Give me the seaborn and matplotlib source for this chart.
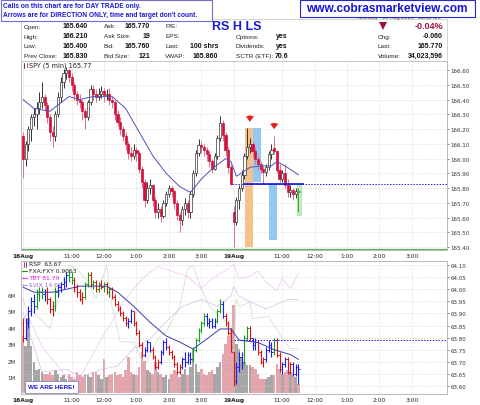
import numpy as np
import pandas as pd
import matplotlib
matplotlib.use('Agg')
import matplotlib.pyplot as plt
import seaborn as sns
from matplotlib.patches import Rectangle, Polygon

# SPY 5 min candles: bars 0-77 = 16 Aug, bars 78-102 = 19 Aug
spy_open = [166.15, 166.00, 166.10, 166.20, 166.28, 166.30, 166.34, 166.38, 166.42, 166.36,
            166.28, 166.18, 166.15, 166.30, 166.42, 166.52, 166.58, 166.60, 166.55, 166.50,
            166.44, 166.40, 166.38, 166.32, 166.28, 166.38, 166.47, 166.44, 166.42, 166.44,
            166.46, 166.43, 166.44, 166.40, 166.38, 166.30, 166.25, 166.20, 166.15, 166.10,
            166.04, 166.02, 166.06, 166.04, 165.93, 165.84, 165.72, 165.80, 165.82, 165.72,
            165.64, 165.66, 165.61, 165.70, 165.76, 165.80, 165.78, 165.70, 165.62, 165.58,
            165.66, 165.70, 165.64, 165.76, 165.90, 166.04, 166.09, 166.08, 166.06, 166.03,
            165.98, 165.93, 166.02, 166.14, 166.24, 166.16, 166.06, 165.94,
            165.64, 165.57, 165.72, 165.80, 165.89, 166.02, 166.08, 166.10, 166.05, 166.00,
            165.96, 165.93, 165.91, 165.94, 166.03, 166.07, 166.05, 165.92, 165.86, 165.90,
            165.82, 165.77, 165.79, 165.76, 165.78]
spy_high = [166.18, 166.12, 166.22, 166.30, 166.34, 166.38, 166.45, 166.52, 166.44, 166.38,
            166.30, 166.22, 166.32, 166.45, 166.55, 166.61, 166.62, 166.61, 166.58, 166.52,
            166.46, 166.44, 166.40, 166.34, 166.40, 166.50, 166.50, 166.47, 166.48, 166.49,
            166.48, 166.47, 166.48, 166.42, 166.40, 166.33, 166.28, 166.22, 166.18, 166.12,
            166.08, 166.10, 166.08, 166.05, 165.95, 165.86, 165.84, 165.86, 165.83, 165.74,
            165.70, 165.68, 165.72, 165.78, 165.82, 165.82, 165.79, 165.72, 165.64, 165.68,
            165.73, 165.72, 165.78, 165.92, 166.06, 166.13, 166.12, 166.10, 166.08, 166.05,
            166.00, 166.04, 166.16, 166.29, 166.26, 166.18, 166.08, 165.96,
            165.68, 165.74, 165.82, 165.92, 166.04, 166.21, 166.14, 166.12, 166.08, 166.02,
            165.98, 165.95, 165.96, 166.05, 166.10, 166.15, 166.06, 165.96, 165.92, 165.96,
            165.86, 165.82, 165.80, 165.80, 165.80]
spy_low = [165.87, 165.95, 166.05, 166.12, 166.22, 166.20, 166.30, 166.34, 166.32, 166.24,
           166.12, 166.08, 166.12, 166.28, 166.38, 166.48, 166.54, 166.52, 166.46, 166.40,
           166.36, 166.34, 166.26, 166.20, 166.26, 166.36, 166.40, 166.38, 166.40, 166.41,
           166.38, 166.40, 166.36, 166.34, 166.26, 166.22, 166.16, 166.12, 166.06, 166.00,
           165.98, 166.00, 165.98, 165.90, 165.80, 165.67, 165.70, 165.76, 165.68, 165.60,
           165.60, 165.57, 165.60, 165.68, 165.74, 165.74, 165.66, 165.58, 165.50, 165.55,
           165.62, 165.60, 165.60, 165.74, 165.88, 166.02, 166.04, 166.02, 165.98, 165.94,
           165.90, 165.92, 166.00, 166.12, 166.12, 166.02, 165.90, 165.82,
           165.40, 165.55, 165.66, 165.78, 165.86, 166.00, 166.04, 166.02, 165.96, 165.92,
           165.90, 165.83, 165.88, 165.92, 166.00, 166.03, 165.90, 165.84, 165.84, 165.80,
           165.74, 165.74, 165.72, 165.73, 165.64]
spy_close = [166.00, 166.10, 166.20, 166.28, 166.30, 166.34, 166.38, 166.42, 166.36, 166.28,
             166.18, 166.15, 166.30, 166.42, 166.52, 166.58, 166.60, 166.55, 166.50, 166.44,
             166.40, 166.38, 166.32, 166.28, 166.38, 166.47, 166.44, 166.42, 166.44, 166.46,
             166.43, 166.44, 166.40, 166.38, 166.30, 166.25, 166.20, 166.15, 166.10, 166.04,
             166.02, 166.06, 166.04, 165.93, 165.84, 165.72, 165.80, 165.82, 165.72, 165.64,
             165.66, 165.61, 165.70, 165.76, 165.80, 165.78, 165.70, 165.62, 165.58, 165.66,
             165.70, 165.64, 165.76, 165.90, 166.04, 166.09, 166.08, 166.06, 166.03, 165.98,
             165.93, 166.02, 166.14, 166.24, 166.16, 166.06, 165.94, 165.83,
             165.57, 165.72, 165.80, 165.89, 166.02, 166.08, 166.10, 166.05, 166.00, 165.96,
             165.93, 165.91, 165.94, 166.03, 166.06, 166.05, 165.92, 165.86, 165.90, 165.82,
             165.77, 165.79, 165.76, 165.78, 165.77]
# SPY volume (millions)
spy_vol = [3.5, 2.9, 4.6, 2.9, 1.9, 1.4, 1.5, 1.3, 1.2, 1.2,
           1.3, 1.1, 1.4, 1.2, 1.0, 1.1, 0.9, 1.2, 1.0, 0.9,
           1.3, 1.1, 1.0, 1.2, 1.1, 1.0, 1.3, 1.3, 1.1, 0.9,
           2.1, 1.0, 1.1, 1.2, 1.3, 1.1, 1.2, 1.0, 1.4, 2.2,
           1.3, 1.2, 1.1, 1.6, 2.5, 2.0, 1.4, 1.3, 1.2, 1.9,
           1.3, 1.2, 1.0, 1.1, 0.9, 1.2, 1.4, 1.3, 1.0, 1.2,
           1.5, 1.1, 1.6, 2.7, 1.8, 1.3, 1.5, 1.2, 1.1, 1.3,
           1.4, 1.2, 1.6, 1.9, 2.4, 3.0, 3.5, 4.0,
           5.4, 3.0, 2.7, 2.2, 1.9, 1.7, 1.7, 1.6, 1.5, 1.2,
           0.9, 0.9, 0.9, 1.0, 1.1, 1.1, 1.8, 1.5, 1.2, 1.3,
           1.4, 1.3, 1.2, 1.0, 0.6]
# SPY moving average
ma_idx = [0, 4, 10, 12, 17, 21, 26, 33, 38, 43, 48, 53, 58, 62, 66, 70, 75, 77, 79, 80, 84, 88, 92, 94, 97, 102]
ma_val = [166.40, 166.34, 166.32, 166.35, 166.42, 166.40, 166.42, 166.42, 166.34, 166.18, 166.02, 165.90,
          165.81, 165.77, 165.86, 165.93, 166.00, 165.98, 165.88, 165.89, 165.94, 165.95, 165.95, 165.98,
          165.95, 165.89]

# RSP OHLC bars (lower panel), colour code r / b / g
rsp_open = [63.86, 63.80, 63.86, 63.91, 63.95, 63.93, 63.98, 63.99, 63.98, 63.99,
            63.96, 63.92, 63.93, 63.99, 64.01, 64.02, 64.03, 64.06, 64.05, 64.04,
            64.01, 63.99, 63.96, 63.97, 64.02, 64.06, 64.02, 64.03, 64.00, 64.02,
            64.01, 64.02, 63.99, 64.00, 63.97, 63.94, 63.92, 63.90, 63.88, 63.86,
            63.87, 63.91, 63.86, 63.82, 63.77, 63.73, 63.75, 63.78, 63.75, 63.72,
            63.68, 63.70, 63.74, 63.78, 63.76, 63.74, 63.72, 63.69, 63.66, 63.68,
            63.71, 63.70, 63.73, 63.71, 63.75, 63.79, 63.83, 63.86, 63.89, 63.86,
            63.87, 63.85, 63.87, 63.91, 63.94, 63.89, 63.86, 63.82,
            63.74, 63.62, 63.68, 63.72, 63.70, 63.80, 63.84, 63.80, 63.77, 63.78,
            63.74, 63.70, 63.71, 63.75, 63.77, 63.74, 63.79, 63.73, 63.67, 63.69,
            63.71, 63.66, 63.69, 63.65, 63.68]
rsp_high = [63.88, 63.88, 63.93, 63.97, 63.98, 64.00, 64.01, 64.01, 64.00, 64.01,
            63.97, 63.95, 64.01, 64.02, 64.03, 64.05, 64.07, 64.08, 64.07, 64.05,
            64.02, 64.00, 63.99, 64.03, 64.07, 64.07, 64.04, 64.04, 64.03, 64.04,
            64.03, 64.03, 64.01, 64.01, 63.98, 63.95, 63.93, 63.91, 63.89, 63.88,
            63.92, 63.91, 63.87, 63.83, 63.78, 63.76, 63.79, 63.78, 63.76, 63.73,
            63.71, 63.75, 63.79, 63.80, 63.77, 63.75, 63.73, 63.70, 63.69, 63.72,
            63.74, 63.74, 63.74, 63.76, 63.80, 63.84, 63.87, 63.90, 63.90, 63.88,
            63.88, 63.88, 63.92, 63.96, 63.95, 63.90, 63.87, 63.84,
            63.74, 63.70, 63.74, 63.74, 63.81, 63.85, 63.85, 63.80, 63.80, 63.79,
            63.75, 63.72, 63.76, 63.79, 63.78, 63.80, 63.80, 63.74, 63.70, 63.72,
            63.72, 63.70, 63.70, 63.69, 63.69]
rsp_low = [63.78, 63.79, 63.84, 63.89, 63.90, 63.92, 63.95, 63.96, 63.95, 63.94,
           63.90, 63.89, 63.91, 63.97, 63.99, 64.00, 64.01, 64.03, 64.02, 63.99,
           63.97, 63.95, 63.94, 63.96, 64.01, 64.01, 64.00, 63.99, 63.99, 64.00,
           63.99, 63.98, 63.97, 63.96, 63.93, 63.91, 63.89, 63.87, 63.85, 63.84,
           63.86, 63.85, 63.81, 63.76, 63.72, 63.72, 63.74, 63.74, 63.71, 63.67,
           63.67, 63.69, 63.73, 63.75, 63.73, 63.71, 63.68, 63.65, 63.65, 63.67,
           63.68, 63.69, 63.69, 63.70, 63.74, 63.78, 63.82, 63.85, 63.85, 63.84,
           63.84, 63.84, 63.86, 63.90, 63.88, 63.85, 63.81, 63.74,
           63.60, 63.61, 63.66, 63.67, 63.69, 63.79, 63.79, 63.75, 63.75, 63.73,
           63.69, 63.68, 63.70, 63.74, 63.72, 63.73, 63.72, 63.66, 63.65, 63.68,
           63.65, 63.65, 63.64, 63.64, 63.61]
rsp_close = [63.80, 63.86, 63.91, 63.95, 63.93, 63.98, 63.99, 63.98, 63.99, 63.96,
             63.92, 63.93, 63.99, 64.01, 64.02, 64.03, 64.06, 64.05, 64.04, 64.01,
             63.99, 63.96, 63.97, 64.02, 64.06, 64.02, 64.03, 64.00, 64.02, 64.01,
             64.02, 63.99, 64.00, 63.97, 63.94, 63.92, 63.90, 63.88, 63.86, 63.87,
             63.91, 63.86, 63.82, 63.77, 63.73, 63.75, 63.78, 63.75, 63.72, 63.68,
             63.70, 63.74, 63.78, 63.76, 63.74, 63.72, 63.69, 63.66, 63.68, 63.71,
             63.70, 63.73, 63.71, 63.75, 63.79, 63.83, 63.86, 63.89, 63.86, 63.87,
             63.85, 63.87, 63.91, 63.94, 63.89, 63.86, 63.82, 63.76,
             63.62, 63.68, 63.72, 63.70, 63.80, 63.84, 63.80, 63.77, 63.78, 63.74,
             63.70, 63.71, 63.75, 63.77, 63.74, 63.79, 63.73, 63.67, 63.69, 63.71,
             63.66, 63.69, 63.65, 63.68, 63.67]
rsp_colors = ("rbbbbgggbrrrgbbbbggrrrrggrgrgrgrgrrrrrrbbrrrrbbbrrrbbbrrrrrbbbbgggggbbbbggbrrr"
              "rbbbggrbbrrrbbbgrrbbrrbbb")
rsp_ma_idx = [0, 4, 11, 16, 21, 31, 35, 41, 47, 53, 58, 63, 68, 73, 77, 80, 87, 93, 99, 102]
rsp_ma_val = [64.009, 63.988, 63.988, 64.000, 64.013, 64.013, 63.988, 63.930, 63.864, 63.807,
              63.782, 63.753, 63.794, 63.836, 63.836, 63.790, 63.780, 63.750, 63.730, 63.710]

# faint overlays in the lower panel (each on its own scale)
fx_idx = [0, 3, 10, 15, 17, 20, 24, 27, 31, 33, 36, 41, 45, 50, 53, 58, 61, 63, 66, 69, 73, 77, 78, 79,
          80, 84, 85, 91, 96, 99, 102]
fx_val = [0.9080, 0.9088, 0.9071, 0.9116, 0.9128, 0.9125, 0.9113, 0.9098, 0.9128, 0.9091, 0.9059, 0.9059,
          0.9037, 0.9062, 0.9068, 0.9091, 0.9125, 0.9128, 0.9107, 0.9091, 0.9082, 0.9073, 0.9051, 0.9098,
          0.9091, 0.9095, 0.9080, 0.9082, 0.9062, 0.9053, 0.9053]
tbt_idx = [0, 2, 7, 13, 16, 21, 25, 29, 32, 36, 41, 45, 50, 56, 61, 66, 70, 76, 78, 80, 84, 87, 90, 94,
           96, 99, 102]
tbt_val = [81.56, 81.40, 81.13, 80.95, 80.86, 80.84, 81.02, 81.20, 81.31, 81.49, 81.65, 81.76, 81.85,
           81.80, 81.76, 81.65, 81.74, 81.83, 81.87, 81.74, 81.76, 81.81, 81.71, 81.63, 81.74, 81.65, 81.79]
vix_idx = [0, 7, 16, 22, 29, 35, 41, 47, 53, 59, 66, 72, 77, 78, 80, 84, 90, 94, 98, 102]
vix_val = [14.50, 13.99, 14.01, 13.95, 14.01, 14.04, 14.19, 14.27, 14.42, 14.55, 14.61, 14.55, 14.64,
           14.72, 14.64, 14.59, 14.53, 14.57, 14.61, 14.61]

# time axis (bar index of each label)
tick_pos = [0, 18, 30, 42, 54, 66, 78, 96, 108, 120, 132, 144]
tick_lab = ['16Aug', '11:00', '12:00', '1:00', '2:00', '3:00', '19Aug', '11:00', '12:00', '1:00', '2:00', '3:00']

# trade markup on 19 Aug: (first bar, last bar, low, high, colour)
boxes = [(82.2, 85.0, 165.40, 166.21, '#f6c28c'),
         (85.3, 88.0, 165.84, 166.21, '#92c8f2'),
         (91.2, 94.2, 165.45, 165.83, '#92c8f2')]
arrows = [(84, 166.31, 166.23), (93, 166.26, 166.18)]
prev_close = 165.83
rsp_level = 63.79

W, H = 480, 406
RED = '#d4103c'
BLUE_TXT = '#1a1ad8'

sns.set_theme(style='white')
plt.rcParams['font.family'] = ['DejaVu Sans']


def px_rect(l, t, r, b):
    return [l / W, 1 - b / H, (r - l) / W, (b - t) / H]


fig = plt.figure(figsize=(4.8, 4.06), dpi=100)
fig.patch.set_facecolor('white')

ax = fig.add_axes(px_rect(21, 62, 447, 251))
ax_low = fig.add_axes(px_rect(21, 262, 447, 395))
ax_vol = ax_low.twinx()
ax_fx = ax_low.twinx()
ax_tbt = ax_low.twinx()
ax_vix = ax_low.twinx()

x_lim = (-0.74, 157.0)

# ---------- main SPY panel ----------
for b0, b1, lo, hi, c in boxes:
    ax.add_patch(Rectangle((b0, lo), b1 - b0, hi - lo, facecolor=c, edgecolor='none', zorder=1))
n = len(spy_close)
last = n - 1
ax.add_patch(Rectangle((last - 0.7, 165.62), 1.8, 0.20, facecolor='#c9ecc0', edgecolor='#a8dca0',
                       lw=0.5, zorder=1))
for i in range(n):
    o, h, l, c = spy_open[i], spy_high[i], spy_low[i], spy_close[i]
    if i == last:
        edge, face, wick = '#33a033', 'white', '#33a033'
    elif c >= o:
        edge, face, wick = '#333333', 'white', '#333333'
    else:
        edge, face, wick = RED, RED, '#e0708a'
    ax.vlines(i, l, h, color=wick, lw=0.7, zorder=3)
    ax.add_patch(Rectangle((i - 0.4, min(o, c)), 0.8, max(abs(c - o), 0.005),
                           facecolor=face, edgecolor=edge, lw=0.5, zorder=4))

sns.lineplot(x=ma_idx, y=ma_val, ax=ax, color='#5252b8', lw=0.7, zorder=5)
ax.hlines(prev_close, 77.5, x_lim[1], colors='#2020e0', linestyles=(0, (1.5, 1.5)), lw=0.7, zorder=5)
ax.hlines(prev_close, 81.5, 104, colors='#1515e0', lw=1.2, zorder=6)
ax.axhline(165.387, color='#5cb85c', lw=0.9, zorder=2)
for xi, top, tip in arrows:
    ax.annotate('', xy=(xi, tip), xytext=(xi, top),
                arrowprops=dict(arrowstyle='simple,head_width=0.6,head_length=0.4,tail_width=0.28',
                                fc='#e8221a', ec='none', mutation_scale=10), zorder=7)

ax.set_xlim(*x_lim)
ax.set_ylim(165.38, 166.661)
ax.set_yticks(np.round(np.arange(165.40, 166.65, 0.10), 2))
ax.yaxis.set_major_formatter(matplotlib.ticker.FormatStrFormatter('%.2f'))
ax.yaxis.tick_right()

# ---------- lower panel ----------
vol_colors = ['#a6a6a6' if c >= o else '#e4a4ac' for o, c in zip(spy_open, spy_close)]
ax_vol.bar(np.arange(n), spy_vol, width=0.95, color=vol_colors, edgecolor='none')
ax_vol.set_ylim(-0.04, 8.07)
ax_vol.set_yticks([1, 2, 3, 4, 5, 6])
ax_vol.set_yticklabels(['1M', '2M', '3M', '4M', '5M', '6M'])
ax_vol.yaxis.tick_left()

sns.lineplot(x=fx_idx, y=fx_val, ax=ax_fx, color='#9ccc9c', lw=0.6, alpha=0.5)
ax_fx.set_ylim(0.9012, 0.9132)
sns.lineplot(x=tbt_idx, y=tbt_val, ax=ax_tbt, color='#ec9aec', lw=0.6, alpha=0.5)
ax_tbt.set_ylim(80.70, 81.90)
sns.lineplot(x=vix_idx, y=vix_val, ax=ax_vix, color='#c0a4e4', lw=0.6, alpha=0.6)
ax_vix.set_ylim(13.80, 14.94)
for a in (ax_fx, ax_tbt, ax_vix):
    a.set_yticks([])
    a.set_ylabel('')
    a.patch.set_visible(False)
    for s in a.spines.values():
        s.set_visible(False)

bar_col = {'r': '#e01010', 'b': '#1c1cf0', 'g': '#14a014'}
for i in range(len(rsp_close)):
    c = bar_col[rsp_colors[i]]
    ax_low.vlines(i, rsp_low[i], rsp_high[i], color=c, lw=0.8, zorder=4)
    ax_low.hlines(rsp_open[i], i - 0.5, i, color=c, lw=0.7, zorder=4)
    ax_low.hlines(rsp_close[i], i, i + 0.5, color=c, lw=0.7, zorder=4)
sns.lineplot(x=rsp_ma_idx, y=rsp_ma_val, ax=ax_low, color='#3c3caa', lw=0.7, zorder=5)
ax_low.hlines(rsp_level, 78, x_lim[1], colors='#2020e0', linestyles=(0, (1.5, 1.5)), lw=0.7, zorder=5)

ax_low.set_xlim(*x_lim)
ax_low.set_ylim(63.567, 64.117)
ax_low.set_yticks(np.round(np.arange(63.60, 64.11, 0.05), 2))
ax_low.yaxis.set_major_formatter(matplotlib.ticker.FormatStrFormatter('%.2f'))
ax_low.yaxis.tick_right()

ax_vol.set_zorder(0)
ax_fx.set_zorder(1)
ax_tbt.set_zorder(1)
ax_vix.set_zorder(1)
ax_low.set_zorder(2)
ax_low.patch.set_visible(False)
ax_vol.patch.set_visible(True)
ax_vol.patch.set_facecolor('white')

for a in (ax, ax_low):
    a.set_xticks(tick_pos)
    a.set_xticklabels(tick_lab)
    for lab in a.get_xticklabels():
        if 'Aug' in lab.get_text():
            lab.set_fontweight('bold')
    a.grid(True, linestyle=(0, (1, 1.5)), color='#cfcfcf', lw=0.5)
    a.tick_params(axis='x', labelsize=4.2, length=0, pad=2.2, colors='#222222')
    a.tick_params(axis='y', labelsize=4.0, length=1.5, width=0.4, pad=1.2, colors='#333333')
    a.set_xlabel('')
    a.set_ylabel('')
    for s in a.spines.values():
        s.set_color('#b8b8b8')
        s.set_linewidth(0.7)
ax_vol.tick_params(axis='y', labelsize=4.0, length=0, pad=4, colors='#333333')
ax_vol.set_ylabel('')
for s in ax_vol.spines.values():
    s.set_visible(False)

# ---------- header / annotations in pixel coordinates ----------
ov = fig.add_axes([0, 0, 1, 1])
ov.set_xlim(0, W)
ov.set_ylim(H, 0)
ov.axis('off')
ov.set_zorder(10)
ov.patch.set_visible(False)
HF = ['Liberation Sans', 'DejaVu Sans']

ov.add_patch(Rectangle((21, 20), 426, 42, fill=False, edgecolor='#cccccc', lw=0.6))
ov.text(440, 17.8, 'Monday   19 Aug 2013   11:35 am', ha='right', va='center', fontsize=4,
        color='#555555', family=HF, zorder=1)
ov.add_patch(Rectangle((300, 0.5), 175, 17.5, facecolor='white', edgecolor='#2626c8', lw=0.8, zorder=2))
ov.text(387, 9.5, 'www.cobrasmarketview.com', ha='center', va='center', fontsize=8.6,
        fontweight='bold', color='#1515d8', family=HF, zorder=3)
ov.add_patch(Rectangle((0.5, 0.5), 211.5, 21.5, facecolor='white', edgecolor='#7070c8', lw=0.8, zorder=2))
ov.text(3, 6.5, 'Calls on this chart are for DAY TRADE only.', ha='left', va='center', fontsize=4.8,
        fontweight='bold', color=BLUE_TXT, family=HF, zorder=3)
ov.text(3, 15.5, "Arrows are for DIRECTION ONLY, time and target don't count.", ha='left', va='center',
        fontsize=4.8, fontweight='bold', color=BLUE_TXT, family=HF, zorder=3)

rows = [27, 37, 46.5, 56.5]
info_cols = [
    (24, 88, ['Open:', 'High:', 'Low:', 'Prev Close:'], ['165.640', '166.210', '165.400', '165.830']),
    (104, 150, ['Ask:', 'Ask Size:', 'Bid:', 'Bid Size:'], ['165.770', '19', '165.760', '121']),
    (165, 218, ['P/E:', 'EPS:', 'Last:', 'VWAP:'], ['', '', '100 shrs', '165.860']),
    (236, 288, ['', 'Options:', 'Dividends:', 'SCTR (ETF):'], ['', 'yes', 'yes', '70.6']),
    (378, 443, ['', 'Chg:', 'Last:', 'Volume:'], ['', '-0.060', '165.770', '34,023,596']),
]
for lx, vx, labs, vals in info_cols:
    for y, lab, val in zip(rows, labs, vals):
        ov.text(lx, y, lab, ha='left', va='center', fontsize=4.6, color='#222222', family=HF)
        ov.text(vx, y, val, ha='right', va='center', fontsize=5.0, fontweight='bold', color='#111111',
                family=HF)
ov.text(237, 27, 'RS H LS', ha='center', va='center', fontsize=9, fontweight='bold', color=BLUE_TXT,
        family=HF)
ov.text(443, 26.5, '-0.04%', ha='right', va='center', fontsize=6.5, fontweight='bold', color='#a3103e',
        family=HF)
ov.add_patch(Polygon([(379, 23), (387, 23), (383, 31)], closed=True, facecolor='#a3103e', edgecolor='none'))

# panel labels
ov.plot([24, 24], [64, 68.5], color='#222222', lw=0.6)
ov.plot([26.5, 26.5], [63.5, 68], color=RED, lw=0.6)
ov.text(29, 66, 'SPY (5 min) 165.77', ha='left', va='center', fontsize=4.7, color='#222222')

ov.plot([23.5, 23.5], [263, 267.5], color='#e01010', lw=0.6)
ov.plot([25.5, 25.5], [263, 267.5], color='#1c1cf0', lw=0.6)
legend_rows = [(265, 'RSP  63.67', '#222222', None),
               (272, 'FXA:FXY 0.9053', '#222222', '#14a014'),
               (279, 'TBT 81.79', '#e020e0', '#f040f0'),
               (286, '$VIX 14.61', '#9a70d8', '#b090e8')]
for y, txt, tc, lc in legend_rows:
    if lc:
        ov.plot([22, 27], [y, y], color=lc, lw=0.8)
    ov.text(29, y, txt, ha='left', va='center', fontsize=4.3, color=tc)

ov.add_patch(Rectangle((25, 382), 53, 12, facecolor='white', edgecolor='#8a8ab8', lw=0.6))
ov.text(51.5, 388, 'WE ARE HERE!', ha='center', va='center', fontsize=4.6, fontweight='bold',
        color=BLUE_TXT, family=HF)

fig.savefig('out.png', dpi=100, facecolor='white')
